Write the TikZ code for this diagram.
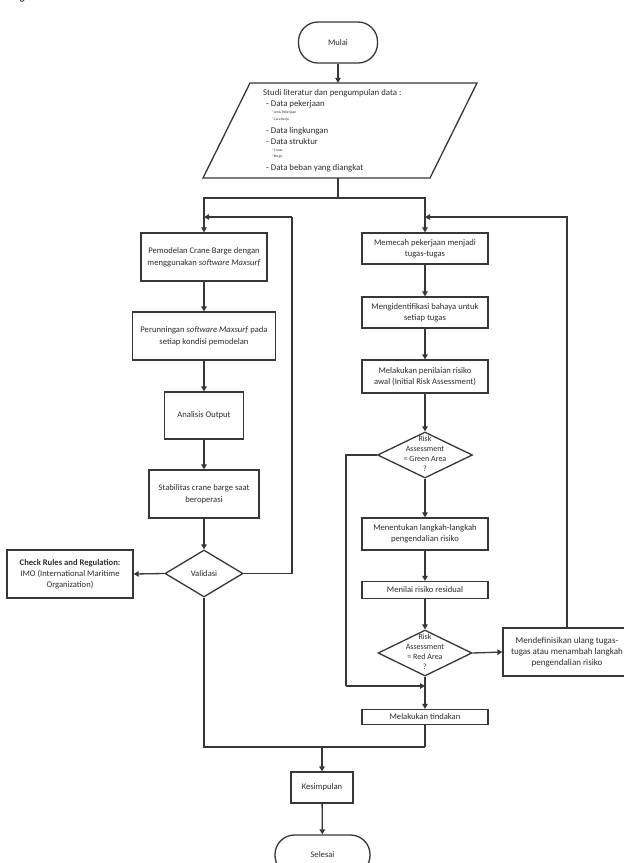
\documentclass[tikz,border=0pt]{standalone}
\usepackage{fontspec}
\setmainfont{Carlito}
\usetikzlibrary{arrows.meta,shapes.geometric,calc}
\definecolor{ln}{RGB}{55,55,55}
\definecolor{tx}{RGB}{45,45,45}
\begin{document}
\begin{tikzpicture}[x=1pt,y=-1pt,
  line/.style={draw=ln,line width=1.3pt},
  arr/.style={line,-{Triangle[length=5pt,width=5.5pt]}},
  box/.style={draw=ln,line width=1.3pt,rectangle,inner sep=0pt,align=center,text=tx,font=\fontsize{8.6}{12}\selectfont},
  term/.style={box,rounded corners=19.5pt},
  dia/.style={draw=ln,line width=1.3pt,diamond,inner sep=0pt},
  dtext/.style={align=center,text=tx,inner sep=0pt,font=\fontsize{8}{10}\selectfont},
  ptext/.style={anchor=west,inner sep=0pt,text=tx,font=\fontsize{8.8}{9}\selectfont},
  stext/.style={anchor=west,inner sep=0pt,text=tx,font=\fontsize{3.6}{4}\selectfont}
]
\useasboundingbox (0,0) rectangle (624,863);
\fill[white] (0,0) rectangle (624,863);

% clipped heading fragment
\node[anchor=base west,inner sep=0pt,font=\bfseries\fontsize{10}{12}\selectfont,text=tx] (head) at (6,0.8) {Diagram Alir};

% start
\node[term,minimum width=79pt,minimum height=41pt] (mulai) at (338,42.5) {Mulai};

% parallelogram
\node[minimum width=274pt,minimum height=95pt,inner sep=0pt] (data) at (340,130.5) {};
\draw[line] (250,83) -- (477,83) -- (430,178) -- (203,178) -- cycle;
\node[ptext] (t1) at (263,93) {Studi literatur dan pengumpulan data :};
\node[ptext] (t2) at (266,104) {- Data pekerjaan};
\node[stext] (t3) at (272,113) {*Jenis Pekerjaan};
\node[stext] (t4) at (272,119.5) {*Cara Kerja};
\node[ptext] (t5) at (266,131) {- Data lingkungan};
\node[ptext] (t6) at (266,141) {- Data struktur};
\node[stext] (t7) at (272,150) {*Crane};
\node[stext] (t8) at (272,156.5) {*Barge};
\node[ptext] (t9) at (266,168) {- Data beban yang diangkat};

% left column
\node[box,minimum width=126pt,minimum height=48pt] (b1) at (204,257) {Pemodelan Crane Barge dengan\\menggunakan \textit{software Maxsurf}};
\node[box,minimum width=143pt,minimum height=48pt] (b2) at (204,336) {Perunningan \textit{software Maxsurf} pada\\setiap kondisi pemodelan};
\node[box,minimum width=79pt,minimum height=47pt] (b3) at (204,415.5) {Analisis Output};
\node[box,minimum width=110pt,minimum height=48pt] (b4) at (204,494) {Stabilitas crane barge saat\\beroperasi};
\node[dia,minimum width=78pt,minimum height=47pt] (val) at (204,573.5) {};
\node[dtext,font=\fontsize{8.6}{10}\selectfont] (valt) at (val) {Validasi};
\node[box,minimum width=126pt,minimum height=48pt,font=\fontsize{8.6}{11}\selectfont] (chk) at (70,574) {\textbf{Check Rules and Regulation:}\\IMO (International Maritime\\Organization)};

% right column
\node[box,minimum width=126pt,minimum height=31pt,font=\fontsize{8.6}{11}\selectfont] (r1) at (425,248.5) {Memecah pekerjaan menjadi\\tugas-tugas};
\node[box,minimum width=126pt,minimum height=31pt,font=\fontsize{8.6}{11}\selectfont] (r2) at (425,312.5) {Mengidentifikasi bahaya untuk\\setiap tugas};
\node[box,minimum width=126pt,minimum height=33pt,font=\fontsize{8.6}{11}\selectfont] (r3) at (425,376.5) {Melakukan penilaian risiko\\awal (Initial Risk Assessment)};
\node[dia,minimum width=95pt,minimum height=46pt] (d1) at (425,455) {};
\node[dtext] (d1t) at (425,454) {Risk\\Assessment\\= Green Area\\?};
\node[box,minimum width=126pt,minimum height=32pt,font=\fontsize{8.6}{11}\selectfont] (r4) at (425,534) {Menentukan langkah-langkah\\pengendalian risiko};
\node[box,minimum width=126pt,minimum height=17pt] (r5) at (425,590) {Menilai risiko residual};
\node[dia,minimum width=94pt,minimum height=46pt] (d2) at (425,653) {};
\node[dtext] (d2t) at (425,652) {Risk\\Assessment\\= Red Area\\?};
\node[box,minimum width=128pt,minimum height=48pt,font=\fontsize{9}{11}\selectfont] (r6) at (567,652) {Mendefinisikan ulang tugas-\\tugas atau menambah langkah\\pengendalian risiko};
\node[box,minimum width=126pt,minimum height=15pt] (r7) at (425,717) {Melakukan tindakan};

% end
\node[box,minimum width=62pt,minimum height=31pt] (kes) at (322,787.5) {Kesimpulan};
\node[term,minimum width=95pt,minimum height=40pt] (sel) at (322.5,855) {Selesai};

% helper coordinates
\coordinate (sp) at (338,198);
\coordinate (jl) at (204,217);
\coordinate (lt) at (292,217);
\coordinate (jr) at (425,217);
\coordinate (gl) at (346,686);
\coordinate (jg) at (425,686);
\coordinate (ml) at (204,747);
\coordinate (mr) at (425,747);
\coordinate (mm) at (322,747);

% connectors
\draw[arr] (mulai.south) -- (mulai.south |- data.north);
\draw[line] (mulai.south |- data.south) -- (sp);
\draw[arr] (sp) -| (b1.north);
\draw[arr] (sp) -| (r1.north);
\draw[arr] (b1) -- (b2);
\draw[arr] (b2) -- (b3);
\draw[arr] (b3) -- (b4);
\draw[arr] (b4) -- (val);
\draw[arr] (val.west) -- (chk.east);
\draw[line] (val.east) -| (lt);
\draw[arr] (lt) -- (jl);
\draw[line] (val.south) -- (ml) -- (mr);
\draw[arr] (mm) -- (kes.north);
\draw[arr] (kes) -- (sel);

\draw[arr] (r1) -- (r2);
\draw[arr] (r2) -- (r3);
\draw[arr] (r3) -- (d1);
\draw[arr] (d1) -- (r4);
\draw[arr] (r4) -- (r5);
\draw[arr] (r5) -- (d2);
\draw[arr] (d2.east) -- (r6.west);
\draw[arr] (r6.north) |- (jr);
\draw[line] (d1.west) -| (gl);
\draw[arr] (gl) -- (jg);
\draw[arr] (d2) -- (r7);
\draw[line] (r7.south) -- (mr);
\end{tikzpicture}
\end{document}
